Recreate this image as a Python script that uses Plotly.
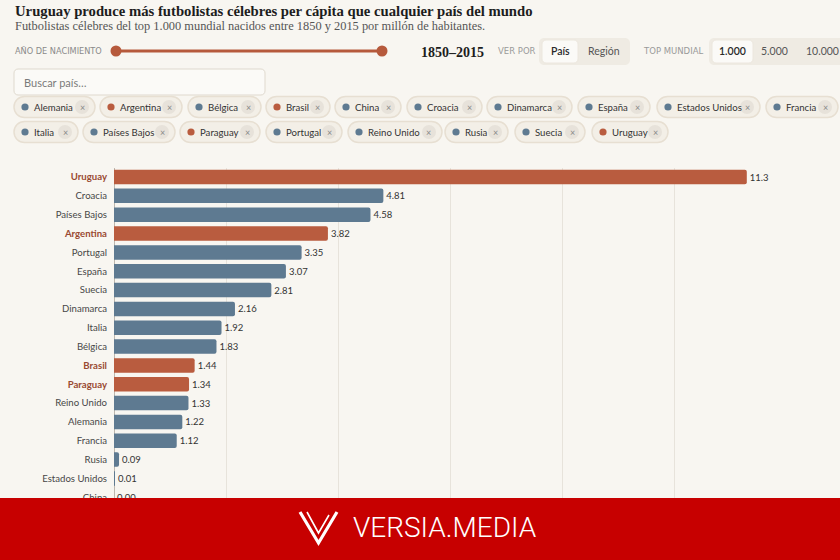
import plotly.graph_objects as go

# ---------------- data ----------------
countries = ["Uruguay", "Croacia", "Países Bajos", "Argentina", "Portugal", "España",
             "Suecia", "Dinamarca", "Italia", "Bélgica", "Brasil", "Paraguay",
             "Reino Unido", "Alemania", "Francia", "Rusia", "Estados Unidos", "China"]
values = [11.3, 4.81, 4.58, 3.82, 3.35, 3.07, 2.81, 2.16, 1.92, 1.83, 1.44, 1.34,
          1.33, 1.22, 1.12, 0.09, 0.01, 0.00]
south_america = ["Uruguay", "Argentina", "Brasil", "Paraguay"]

chip_names_row1 = ["Alemania", "Argentina", "Bélgica", "Brasil", "China", "Croacia",
                   "Dinamarca", "España", "Estados Unidos", "Francia"]
chip_names_row2 = ["Italia", "Países Bajos", "Paraguay", "Portugal", "Reino Unido",
                   "Rusia", "Suecia", "Uruguay"]

# ---------------- style ----------------
W, H = 840, 560
BG = "#F8F6F1"
ORANGE = "#B95C3F"
BLUE = "#5E7A91"
HL_TEXT = "#9A4A32"
TXT = "#474747"
SANS = "Lato, 'Open Sans', sans-serif"
SERIF = "'Liberation Serif', 'DejaVu Serif', serif"


def X(px):
    return px / W


def Y(py):
    return 1 - py / H


def rrect(x0, y0, x1, y1, r):
    k = 0.5523 * r
    pts = [
        f"M{X(x0 + r)},{Y(y0)}",
        f"L{X(x1 - r)},{Y(y0)}",
        f"C{X(x1 - r + k)},{Y(y0)} {X(x1)},{Y(y0 + r - k)} {X(x1)},{Y(y0 + r)}",
        f"L{X(x1)},{Y(y1 - r)}",
        f"C{X(x1)},{Y(y1 - r + k)} {X(x1 - r + k)},{Y(y1)} {X(x1 - r)},{Y(y1)}",
        f"L{X(x0 + r)},{Y(y1)}",
        f"C{X(x0 + r - k)},{Y(y1)} {X(x0)},{Y(y1 - r + k)} {X(x0)},{Y(y1 - r)}",
        f"L{X(x0)},{Y(y0 + r)}",
        f"C{X(x0)},{Y(y0 + r - k)} {X(x0 + r - k)},{Y(y0)} {X(x0 + r)},{Y(y0)}",
        "Z",
    ]
    return " ".join(pts)


shapes = []
annotations = []


def add_rr(x0, y0, x1, y1, r, fill, line=None, lw=1, layer="below"):
    shapes.append(dict(type="path", xref="paper", yref="paper", path=rrect(x0, y0, x1, y1, r),
                       fillcolor=fill, line=dict(color=line or fill, width=lw if line else 0),
                       layer=layer))


def add_circle(cx, cy, r, fill, layer="below"):
    shapes.append(dict(type="circle", xref="paper", yref="paper",
                       x0=X(cx - r), x1=X(cx + r), y0=Y(cy + r), y1=Y(cy - r),
                       fillcolor=fill, line=dict(width=0), layer=layer))


def add_text(px, py, text, size, color, family=SANS, xanchor="left", weight=None):
    f = dict(size=size, color=color, family=family)
    if weight:
        f["weight"] = weight
    annotations.append(dict(x=X(px), y=Y(py), xref="paper", yref="paper", text=text,
                            showarrow=False, xanchor=xanchor, yanchor="middle", font=f))


# ---------------- header ----------------
add_text(13, 11, "<b>Uruguay produce más futbolistas célebres per cápita que cualquier país del mundo</b>",
         14.7, "#1d1d1d", SERIF)
add_text(13, 26, "Futbolistas célebres del top 1.000 mundial nacidos entre 1850 y 2015 por millón de habitantes.",
         12.4, "#555555", SERIF)

# slider row
add_text(13, 51, "AÑO DE NACIMIENTO", 8.2, "#8a8a8a", "'DejaVu Sans', sans-serif")
shapes.append(dict(type="line", xref="paper", yref="paper", x0=X(116), x1=X(382), y0=Y(51), y1=Y(51),
                   line=dict(color="#B65A3C", width=3), layer="below"))
add_circle(116, 51, 5.5, "#B65A3C")
add_circle(382, 51, 5.5, "#B65A3C")
add_text(419, 52, "<b>1850–2015</b>", 14, "#1d1d1d", SERIF)
add_text(496, 51, "VER POR", 8.5, "#9a9a9a", "'DejaVu Sans', sans-serif")
add_rr(539, 38, 630, 65, 5, "#EFEBE3")
add_rr(542, 40, 578, 63, 4, "#FBFAF7", "#ECE7DE", 1)
add_text(560, 51, "País", 10.5, "#2a2a2a", SANS, "center", 600)
add_text(604, 51, "Región", 10.5, "#555555", SANS, "center")
add_text(641, 51, "TOP MUNDIAL", 8.5, "#9a9a9a", "'DejaVu Sans', sans-serif")
add_rr(709, 38, 846, 65, 5, "#EFEBE3")
add_rr(712, 40, 753, 63, 4, "#FBFAF7", "#ECE7DE", 1)
add_text(732, 51, "1.000", 10.5, "#2a2a2a", SANS, "center", 600)
add_text(774, 51, "5.000", 10.5, "#555555", SANS, "center")
add_text(822, 51, "10.000", 10.5, "#555555", SANS, "center")

# search box
add_rr(14, 69, 265, 95, 4, "#FBFAF7", "#DFD9CE", 1)
add_text(22, 82, "Buscar país…", 11, "#7a7a7a", SANS)

# chips
row1_edges = [(14, 95), (100, 182), (188, 261), (266, 330), (335, 401), (407, 482),
              (487, 572), (578, 650), (657, 760), (766, 838)]
row2_edges = [(14, 78), (83, 175), (180, 260), (266, 342), (348, 442), (445, 508),
              (515, 585), (592, 668)]
for names, edges, yc in [(chip_names_row1, row1_edges, 107), (chip_names_row2, row2_edges, 132)]:
    for name, (x0, x1) in zip(names, edges):
        add_rr(x0, yc - 10.5, x1, yc + 10.5, 10.5, "#F3EFE7", "#E7DFD2", 1.5)
        add_circle(x0 + 11, yc, 3.6, ORANGE if name in south_america else BLUE)
        add_text(x0 + 18, yc, name, 9.6, "#333333", SANS)
        add_circle(x1 - 13, yc, 7, "#E7E2DA")
        add_text(x1 - 13, yc, "×", 9, "#888888", SANS, "center")

# ---------------- bars ----------------
colors = [ORANGE if c in south_america else BLUE for c in countries]
labels = [f"{v:.1f}" if v >= 10 else f"{v:.2f}" for v in values]
ticktext = [f"<span style='color:{HL_TEXT}'><b>{c}</b></span>" if c in south_america else c
            for c in countries]

row_top, row_step = 167.6, 18.84
plot_bottom = row_top + row_step * len(countries)
px_per_unit = 56.0
x_max = 11.95

fig = go.Figure(go.Bar(
    x=values, y=countries, orientation="h",
    marker=dict(color=colors, line=dict(width=0)),
    text=labels, textposition="outside", cliponaxis=False,
    textfont=dict(size=9.5, color="#333333", family=SANS),
    hoverinfo="skip",
))

# ---------------- banner ----------------
shapes.append(dict(type="rect", xref="paper", yref="paper", x0=0, x1=1, y0=Y(560), y1=Y(498),
                   fillcolor="#C70000", line=dict(width=0), layer="above"))
shapes.append(dict(type="path", xref="paper", yref="paper",
                   path=f"M{X(300)},{Y(512)} L{X(318.5)},{Y(543)} L{X(337)},{Y(512)}",
                   line=dict(color="white", width=3.2), layer="above"))
shapes.append(dict(type="path", xref="paper", yref="paper",
                   path=f"M{X(307)},{Y(512)} L{X(318.5)},{Y(533)} L{X(329)},{Y(515)}",
                   line=dict(color="white", width=1.6), layer="above"))
add_text(351, 527, "VERSIA.MEDIA", 28, "#FFFFFF", "Roboto, 'Liberation Sans', sans-serif", weight=300)

fig.update_layout(
    width=W, height=H,
    margin=dict(l=0, r=0, t=0, b=0),
    paper_bgcolor=BG, plot_bgcolor="rgba(0,0,0,0)",
    showlegend=False,
    bargap=0.23,
    barcornerradius=2,
    shapes=shapes, annotations=annotations,
    xaxis=dict(domain=[X(114), X(114 + px_per_unit * x_max)], range=[0, x_max],
               showgrid=True, gridcolor="#E7E3DB", gridwidth=1, dtick=2,
               zeroline=True, zerolinecolor="#BDB7AE", zerolinewidth=1,
               showticklabels=False, ticks="", fixedrange=True),
    yaxis=dict(domain=[Y(plot_bottom), Y(row_top)], type="category",
               categoryorder="array", categoryarray=countries,
               range=[len(countries) - 0.5, -0.5],
               tickmode="array", tickvals=countries, ticktext=ticktext,
               tickfont=dict(size=9.6, color=TXT, family=SANS),
               ticks="", ticklabelstandoff=6, showgrid=False, zeroline=False, fixedrange=True),
)

fig.write_html("out.html")
